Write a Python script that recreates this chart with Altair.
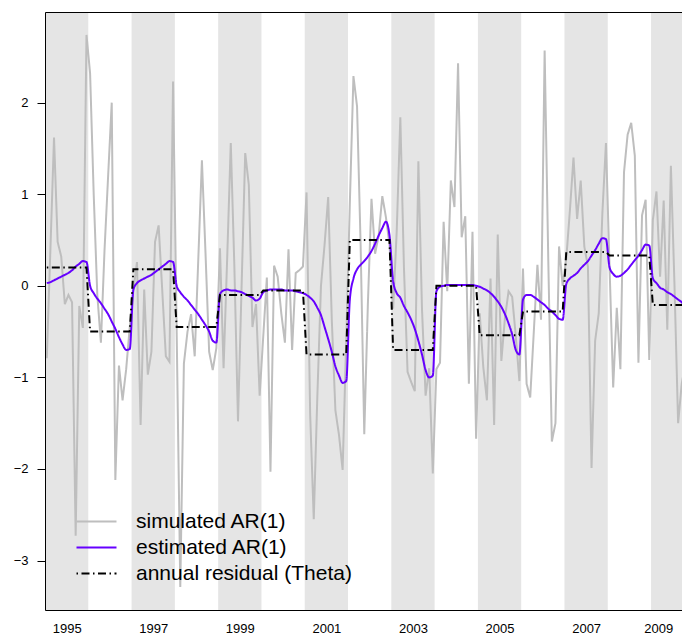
import altair as alt
import pandas as pd

# ---------------- data ----------------
years = list(range(1995, 2010))

# annual residual (Theta), one value per year
theta = [0.20, -0.50, 0.18, -0.45, -0.10, -0.05, -0.75, 0.50, -0.70, 0.00,
         -0.54, -0.28, 0.37, 0.33, -0.21]

# simulated AR(1), monthly (12 per year, 1995..2009)
sim = [
    -0.79, 0.40, 1.62, 0.48, 0.32, -0.20, -0.10, -0.18, -2.73, -0.22, -0.46, 2.74,   # 1995
    2.32, 1.00, -0.10, -0.62, 0.39, 1.20, 2.00, -2.12, -0.87, -1.25, -0.91, -0.45,   # 1996
    -0.05, 0.26, -1.52, -0.04, -0.97, -0.72, 0.48, 0.66, -0.05, -0.77, -0.83, 2.23,  # 1997
    -0.50, -3.29, -0.85, -0.50, -0.31, -0.77, 0.30, 1.37, 0.35, -0.72, -0.92, -0.68, # 1998
    0.41, -0.90, 0.30, 1.56, 0.20, -1.48, 0.00, 1.45, 1.10, -0.45, -0.20, -1.20,     # 1999
    -0.55, 0.09, -2.03, 0.22, 0.10, -0.30, -0.62, 0.40, -0.70, 0.14, 0.17, 0.21,     # 2000
    1.02, -1.40, -2.55, -1.20, 0.00, 0.45, 0.97, -0.37, -1.36, -1.63, -2.01, -0.60,  # 2001
    0.90, 2.29, 1.96, 0.43, -1.62, -0.20, 0.95, 0.35, 0.55, 0.98, 0.75, 0.45,        # 2002
    -0.25, 0.60, 1.84, 0.20, -0.94, -1.05, -1.15, 1.36, -0.25, -1.20, -0.90, -2.05,  # 2003
    -0.91, -0.84, 0.70, -0.06, 1.15, 0.86, 2.43, 0.53, 0.76, -1.07, 0.59, -1.67,     # 2004
    -0.30, -0.89, -1.25, 0.08, -1.52, 0.56, -0.82, -0.35, -0.06, -0.12, -0.55, -1.04,# 2005
    0.19, -1.07, -1.22, -0.50, 0.23, -0.37, 2.57, 0.30, -1.70, -1.50, 0.43, 0.00,    # 2006
    0.30, 0.82, 1.40, 0.73, 1.15, 0.43, 0.21, -1.99, -0.60, -0.30, 0.79, 1.56,       # 2007
    0.20, -1.11, -0.24, -0.91, 1.24, 1.65, 1.78, 1.42, -0.84, 0.77, 0.94, -0.81,     # 2008
    0.72, 1.03, 0.10, 0.93, -0.48, 1.31, 0.00, -1.50, -1.07, -0.85, -0.97, -0.90,    # 2009
]

# estimated AR(1), monthly
est = [
    0.03, 0.04, 0.06, 0.08, 0.10, 0.12, 0.14, 0.17, 0.21, 0.24, 0.27, 0.26,          # 1995
    0.00, -0.08, -0.14, -0.19, -0.25, -0.31, -0.39, -0.47, -0.56, -0.64, -0.70, -0.69,  # 1996
    -0.04, 0.03, 0.06, 0.08, 0.10, 0.12, 0.15, 0.18, 0.21, 0.24, 0.27, 0.26,         # 1997
    0.00, -0.07, -0.12, -0.16, -0.21, -0.26, -0.31, -0.37, -0.43, -0.50, -0.60, -0.62,  # 1998
    -0.09, -0.05, -0.04, -0.05, -0.05, -0.06, -0.07, -0.09, -0.11, -0.13, -0.16, -0.14, # 1999
    -0.07, -0.05, -0.04, -0.04, -0.04, -0.04, -0.05, -0.05, -0.05, -0.06, -0.07, -0.08, # 2000
    -0.10, -0.13, -0.17, -0.24, -0.32, -0.45, -0.58, -0.72, -0.88, -0.98, -1.06, -1.04, # 2001
    -0.15, 0.08, 0.18, 0.23, 0.27, 0.32, 0.38, 0.46, 0.55, 0.63, 0.70, 0.55,         # 2002
    0.05, -0.08, -0.13, -0.22, -0.29, -0.37, -0.47, -0.60, -0.75, -0.92, -1.00, -0.98,  # 2003
    -0.06, -0.01, 0.00, 0.01, 0.01, 0.01, 0.01, 0.01, 0.01, 0.01, 0.01, 0.00,        # 2004
    -0.01, -0.03, -0.05, -0.08, -0.12, -0.17, -0.23, -0.31, -0.41, -0.53, -0.70, -0.75, # 2005
    -0.15, -0.10, -0.10, -0.12, -0.15, -0.18, -0.21, -0.25, -0.28, -0.32, -0.36, -0.37, # 2006
    0.02, 0.08, 0.11, 0.14, 0.19, 0.23, 0.27, 0.33, 0.39, 0.46, 0.52, 0.51,          # 2007
    0.20, 0.13, 0.10, 0.11, 0.14, 0.18, 0.23, 0.28, 0.33, 0.39, 0.45, 0.44,          # 2008
    0.08, 0.03, -0.02, -0.04, -0.07, -0.09, -0.12, -0.15, -0.18, -0.23, -0.29, -0.32,   # 2009
]

band_start = [1995, 1997, 1999, 2001, 2003, 2005, 2007, 2009]
x_label_years = [1995, 1997, 1999, 2001, 2003, 2005, 2007, 2009]
y_ticks = [-3, -2, -1, 0, 1, 2]

series_names = ["simulated AR(1)", "estimated AR(1)", "annual residual (Theta)"]
series_colors = ["#BEBEBE", "#6600FF", "#000000"]
series_dash = [[1, 0], [1, 0], [1.5, 3.5, 8, 3.5]]

# ---------------- tables ----------------
n = len(years) * 12
t = [years[i // 12] + (i % 12 + 0.5) / 12 for i in range(n)]
theta_monthly = [theta[i // 12] for i in range(n)]

df_sim = pd.DataFrame({"t": t, "v": sim, "series": series_names[0]})
df_est = pd.DataFrame({"t": t, "v": est, "series": series_names[1]})
df_theta = pd.DataFrame({"t": t, "v": theta_monthly, "series": series_names[2]})
df_bands = pd.DataFrame({"start": band_start, "end": [b + 1 for b in band_start]})

FONT = "Liberation Sans"
W, H = 637, 598
xs = alt.Scale(domain=[1995, 2009.7148], nice=False, zero=False)
ys = alt.Scale(domain=[-3.54, 2.99], nice=False, zero=False)
cs = alt.Scale(domain=series_names, range=series_colors)
ds = alt.Scale(domain=series_names, range=series_dash)

y_axis = alt.Axis(values=y_ticks, title=None, grid=False, domain=True,
                  domainColor="black", domainWidth=1, ticks=True, tickSize=8,
                  tickColor="black", labelFontSize=13, labelFont=FONT,
                  labelColor="black", labelPadding=9, format="d", zindex=1)

legend = alt.Legend(orient="none", legendX=41, legendY=499, title=None,
                    symbolType="M-4,0H4", symbolSize=100, symbolStrokeWidth=2,
                    labelFontSize=21, labelFont=FONT, labelColor="black",
                    labelOffset=29, rowPadding=4, padding=0, labelLimit=0)

bands = alt.Chart(df_bands).mark_rect(color="#E5E5E5", clip=True).encode(
    x=alt.X("start:Q", scale=xs,
            axis=alt.Axis(values=[y + 0.5 for y in x_label_years],
                          labelExpr="floor(datum.value)", title=None,
                          grid=False, ticks=False, tickSize=0, domain=True,
                          domainColor="black", domainWidth=1,
                          labelFontSize=13, labelFont=FONT, labelColor="black",
                          labelPadding=18, labelBaseline="middle",
                          labelFlush=10, zindex=1)),
    x2="end:Q",
)


def line_layer(df, width, interp, top_axis=False):
    if top_axis:
        xa = alt.Axis(orient="top", labels=False, ticks=False, domain=True,
                      domainColor="black", domainWidth=1, grid=False,
                      title=None, zindex=1)
    else:
        xa = None
    return alt.Chart(df).mark_line(strokeWidth=width, clip=True,
                                   interpolate=interp).encode(
        x=alt.X("t:Q", scale=xs, axis=xa),
        y=alt.Y("v:Q", scale=ys, axis=y_axis),
        color=alt.Color("series:N", scale=cs, legend=legend),
        strokeDash=alt.StrokeDash("series:N", scale=ds, legend=legend),
    )


sim_layer = line_layer(df_sim, 2, "linear", top_axis=True)
est_layer = line_layer(df_est, 2, "monotone")
theta_layer = line_layer(df_theta, 2, "linear")

chart = alt.layer(bands, sim_layer, est_layer, theta_layer).resolve_axis(
    x="independent"
).properties(
    width=W, height=H,
    autosize=alt.AutoSizeParams(type="none"),
    padding={"left": 37, "top": 4, "right": 0, "bottom": 24},
).configure_view(stroke=None).configure(background="white")

chart.save("out.html", embed_options={"renderer": "svg", "actions": False})
